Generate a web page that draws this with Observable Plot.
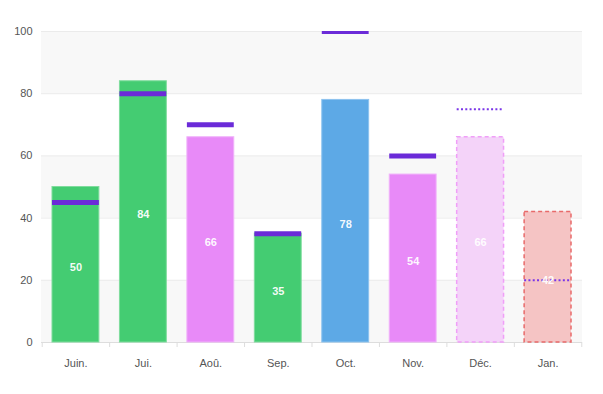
<!DOCTYPE html>
<html>
<head>
<meta charset="utf-8">
<script src="https://cdn.jsdelivr.net/npm/d3@7"></script>
<script src="https://cdn.jsdelivr.net/npm/@observablehq/plot@0.6"></script>
<style>
  html, body { margin: 0; padding: 0; background: #fff; }
  #chart { width: 603px; height: 394px; }
</style>
</head>
<body>
<div id="chart"></div>
<script>
const months  = ["Juin.", "Jui.", "Aoû.", "Sep.", "Oct.", "Nov.", "Déc.", "Jan."];
const values  = [50, 84, 66, 35, 78, 54, 66, 42];
const targets = [45, 80, 70, 35, 100, 60, 75, 20];
const status  = ["actual", "actual", "actual", "actual", "actual", "actual", "projected", "projected"];
const fills   = ["#44cc72", "#44cc72", "#e88af8", "#44cc72", "#5da9e6", "#e88af8", "#f4d3f9", "#f5c4c4"];
const strokes = ["#7fdc9d", "#7fdc9d", "#f0b2fa", "#7fdc9d", "#8cc3ef", "#f0b2fa", "#f09ff8", "#e86a6a"];
const yTicks  = [0, 20, 40, 60, 80, 100];
const bandLow  = [0, 40, 80];
const bandHigh = [20, 60, 100];

const data = months.map((m, i) => ({
  month: m, value: values[i], target: targets[i], status: status[i],
  fill: fills[i], stroke: strokes[i]
}));
const actual = data.filter(d => d.status === "actual");
const projected = data.filter(d => d.status === "projected");

const W = 603, H = 394, ML = 41, MR = 21, MT = 31, MB = 52;
const PI = 0.305, PO = 0.163;
const step = (W - ML - MR) / (months.length - PI + 2 * PO);

const chart = Plot.plot({
  width: W, height: H,
  marginLeft: ML, marginRight: MR, marginTop: MT, marginBottom: MB,
  x: {domain: months, paddingInner: PI, paddingOuter: PO, round: false, axis: null},
  y: {domain: [0, 100], axis: null},
  color: {type: "identity"},
  style: {fontFamily: "'Liberation Sans', Arial, sans-serif", fontSize: "11px", background: "#fff", overflow: "visible"},
  marks: [
    Plot.rect(bandLow.map((l, i) => ({l, h: bandHigh[i]})), {y1: "l", y2: "h", fill: "#f8f8f8"}),
    Plot.ruleY(yTicks.filter(t => t > 0), {stroke: "#ebebeb", strokeWidth: 1}),
    Plot.ruleY([0], {stroke: "#dddddd", strokeWidth: 1}),
    Plot.barY(actual, {x: "month", y: "value", fill: "fill", stroke: "stroke", strokeWidth: 1}),
    Plot.barY(projected, {x: "month", y: "value", fill: "fill", stroke: "stroke", strokeWidth: 1.5, strokeDasharray: "4,3"}),
    Plot.tickY(actual, {x: "month", y: "target", stroke: "#6b2bd8", strokeWidth: 5, clip: true}),
    Plot.tickY(projected, {x: "month", y: "target", stroke: "#7a35e8", strokeWidth: 2, strokeDasharray: "2,2.3"}),
    Plot.text(data, {x: "month", y: d => d.value / 2, dy: 3, text: d => String(d.value), fill: "#fff", fillOpacity: 0.95, fontWeight: "bold", fontSize: 11}),
    Plot.ruleX(months, {x: d => d, dx: -step / 2, y1: 0, y2: 0, insetBottom: -5, stroke: "#dddddd"}),
    Plot.ruleX([months[months.length - 1]], {x: d => d, dx: step / 2, y1: 0, y2: 0, insetBottom: -5, stroke: "#dddddd"}),
    Plot.text(yTicks, {y: d => d, frameAnchor: "left", textAnchor: "end", dx: -9, fill: "#555", fontSize: 11}),
    Plot.text(months, {x: d => d, frameAnchor: "bottom", dy: 24, fill: "#555", fontSize: 11})
  ]
});
document.getElementById("chart").appendChild(chart);
</script>
</body>
</html>
